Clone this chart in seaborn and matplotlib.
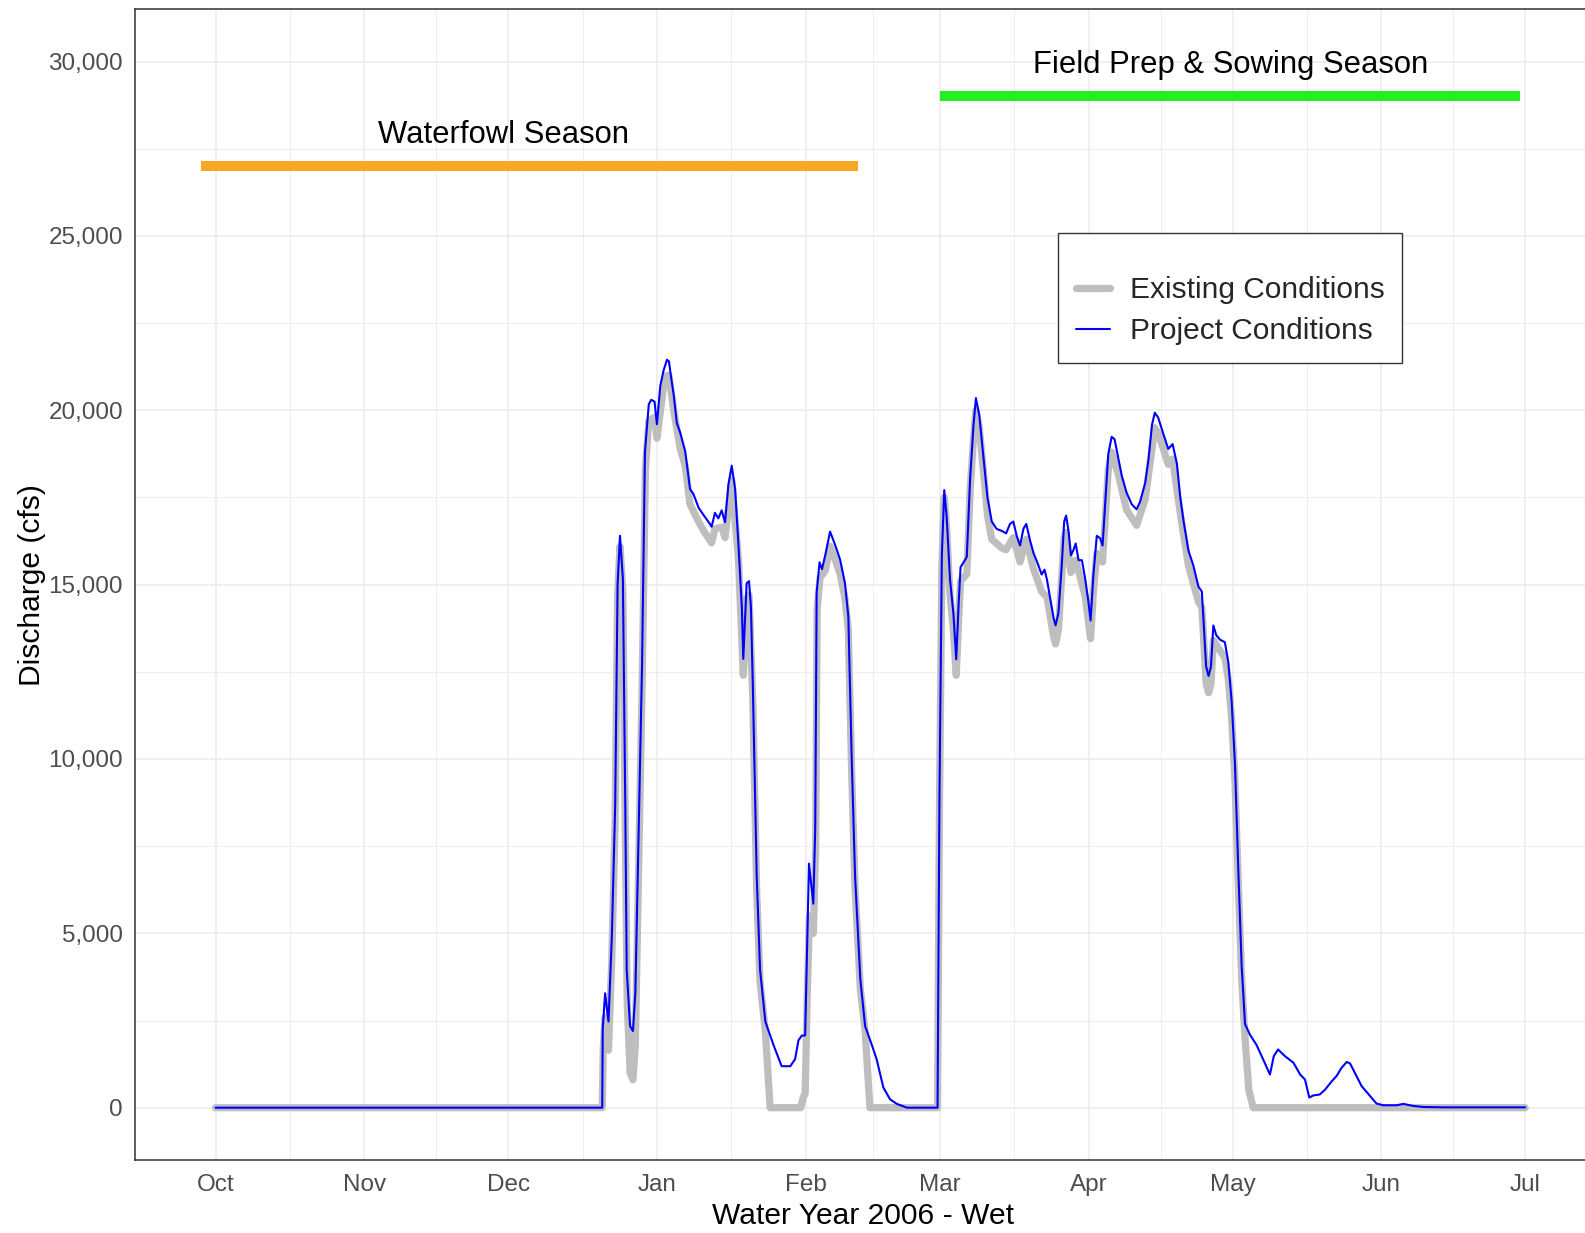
import pandas as pd
import matplotlib
matplotlib.use("Agg")
import matplotlib.pyplot as plt
import matplotlib.dates as mdates
from matplotlib.lines import Line2D
from matplotlib.ticker import FixedLocator, MultipleLocator, StrMethodFormatter
import seaborn as sns

# ---------------------------------------------------------------
# Water Year 2006 (wet) discharge, in days since 1 Oct 2005
# ---------------------------------------------------------------
WY_START = pd.Timestamp("2005-10-01")

project_days = [
    0, 80.6, 80.7, 81.2, 81.9, 82.6, 83.3, 83.8, 84.3, 84.9, 85.4, 85.7, 86.4,
    87.0, 87.5, 88.2, 88.9, 89.5, 90.3, 90.8, 91.5, 92.0, 92.7, 93.4, 94.1,
    94.5, 95.0, 95.5, 96.15, 96.85, 97.9, 98.9, 99.6, 100.7, 101.7, 102.8,
    103.4, 104.1, 104.8, 105.5, 106.2, 106.9, 107.6, 108.3, 109.0, 109.7,
    110.0, 110.4, 110.7, 111.2, 111.6, 112.0, 112.5, 112.8, 113.5, 114.6,
    116.3, 118.0, 119.8, 120.8, 121.5, 122.2, 122.9, 123.2, 123.7, 124.3,
    124.6, 125.0, 125.3, 125.9, 126.4, 127.1, 128.1, 129.2, 130.2, 131.2,
    131.9, 132.6, 133.3, 134.4, 135.4, 136.8, 137.8, 139.2, 140.6, 142.0,
    144.1, 150.5, 150.9, 151.4, 151.9, 152.4, 153.1, 153.8, 154.4, 154.9,
    155.3, 156.2, 156.6, 157.3, 158.0, 158.5, 159.2, 160.1, 160.9, 161.8,
    162.8, 163.9, 164.8, 165.6, 166.3, 167.0, 167.7, 168.4, 169.0, 169.8,
    170.5, 171.5, 172.2, 172.8, 173.3, 174.0, 174.7, 175.1, 175.7, 176.4,
    176.9, 177.3, 177.8, 178.3, 178.8, 179.3, 179.9, 180.6, 181.3, 182.0,
    182.4, 183.0, 183.7, 184.4, 184.9, 185.4, 186.1, 186.8, 187.4, 188.2,
    188.9, 189.9, 191.0, 192.0, 192.7, 193.8, 194.5, 195.2, 195.8, 196.5,
    197.6, 198.6, 199.5, 200.4, 201.1, 201.8, 202.8, 203.8, 204.9, 205.6,
    206.1, 206.5, 207.0, 207.5, 208.0, 208.6, 209.4, 210.4, 211.1, 211.8,
    212.5, 213.2, 213.9, 214.6, 215.6, 217.0, 218.4, 219.8, 220.6, 221.5,
    222.9, 224.7, 226.1, 227.1, 228.0, 228.8, 230.2, 231.3, 232.7, 233.7,
    234.7, 235.8, 236.5, 237.5, 238.9, 240.7, 242.0, 243.4, 246.2, 247.6,
    249.7, 251.8, 255.9, 273.0,
]
project_cfs = [
    0, 0, 2270, 3280, 2470, 4900, 8700, 15000, 16400, 15170, 8700, 3960, 2340,
    2200, 3300, 8000, 12700, 18800, 20170, 20300, 20250, 19600, 20700, 21150,
    21450, 21400, 20900, 20440, 19630, 19360, 18820, 17740, 17600, 17200,
    17000, 16790, 16660, 17060, 16900, 17130, 16790, 17870, 18410, 17740,
    16120, 14360, 12870, 14100, 15040, 15100, 14360, 12060, 8690, 6660, 3960,
    2470, 1800, 1190, 1190, 1390, 1930, 2070, 2070, 3960, 7000, 6250, 5850,
    8010, 14770, 15640, 15440, 15850, 16520, 16120, 15710, 15040, 14090, 10040,
    6660, 3690, 2340, 1800, 1390, 580, 240, 110, 0, 0, 8910, 15840, 17710,
    16950, 15150, 14180, 12860, 14460, 15500, 15700, 15800, 18060, 19580,
    20350, 19860, 18610, 17500, 16810, 16600, 16540, 16470, 16740, 16810,
    16400, 16120, 16600, 16740, 16260, 15910, 15560, 15290, 15430, 15150,
    14600, 14040, 13830, 14180, 15560, 16810, 16980, 16540, 15840, 15980,
    16180, 15700, 15700, 15150, 14460, 13970, 15290, 16400, 16330, 16120,
    17230, 18750, 19240, 19170, 18610, 18130, 17640, 17300, 17160, 17370,
    17920, 18610, 19580, 19930, 19790, 19310, 18890, 19030, 18470, 17500,
    16810, 15980, 15560, 14940, 14800, 13620, 12650, 12380, 12650, 13830,
    13550, 13420, 13350, 12790, 11680, 9880, 6830, 4060, 2400, 2100, 1800,
    1380, 950, 1480, 1670, 1480, 1290, 950, 810, 290, 350, 380, 520, 760, 910,
    1140, 1310, 1270, 1000, 620, 330, 120, 70, 70, 110, 50, 20, 10, 10,
]

existing_days = [
    0, 80.6, 80.8, 81.2, 81.9, 82.6, 83.3, 83.8, 84.3, 84.9, 85.4, 85.8, 86.4,
    87.0, 87.5, 88.2, 88.9, 89.6, 90.3, 91.5, 92.0, 93.4, 94.1, 94.5, 95.5,
    96.85, 97.9, 98.9, 100.7, 101.7, 103.4, 104.1, 105.5, 106.2, 107.6, 109.0,
    110.0, 110.7, 111.2, 112.0, 112.8, 113.5, 114.6, 115.6, 122.0, 122.5,
    122.9, 123.3, 123.8, 124.3, 124.6, 125.1, 125.4, 126.0, 127.1, 128.1,
    129.2, 130.2, 131.2, 131.9, 132.6, 133.3, 134.4, 135.4, 136.4, 150.5,
    150.9, 151.4, 151.9, 152.4, 153.1, 153.8, 154.4, 154.9, 155.3, 156.6,
    157.3, 158.0, 158.5, 159.2, 160.1, 160.9, 161.8, 163.9, 164.8, 166.3,
    167.7, 169.0, 170.5, 172.2, 173.3, 174.7, 175.1, 175.7, 176.9, 177.3,
    178.3, 179.3, 181.3, 182.4, 183.0, 183.7, 184.9, 186.1, 186.8, 188.2,
    189.9, 192.0, 193.8, 195.8, 196.5, 198.6, 199.5, 201.1, 202.8, 204.9,
    205.6, 206.5, 207.0, 207.5, 208.0, 210.4, 211.1, 211.8, 212.5, 213.2,
    213.9, 214.6, 215.4, 216.3, 273.0,
]
existing_cfs = [
    0, 0, 1700, 2600, 1650, 4300, 8300, 14700, 16100, 14800, 8000, 3000, 1000,
    800, 1800, 7000, 12000, 18300, 19700, 19800, 19200, 20700, 21000, 21000,
    20000, 18900, 18400, 17300, 16800, 16550, 16200, 16600, 16650, 16350,
    18000, 15700, 12400, 14600, 14700, 11600, 6200, 3600, 2200, 0, 0, 300,
    400, 3000, 5500, 5300, 5000, 7500, 14300, 15200, 15400, 16100, 15700,
    15300, 14600, 13700, 9600, 6300, 3400, 2200, 0, 0, 8600, 15500, 17500,
    16600, 14700, 13700, 12400, 14000, 15100, 15300, 17700, 19200, 20000,
    19500, 18200, 17000, 16300, 16050, 16000, 16350, 15650, 16300, 15450,
    14800, 14650, 13500, 13300, 13700, 16350, 16500, 15350, 15700, 14650,
    13450, 14800, 15900, 15650, 18300, 18800, 18150, 17150, 16700, 17450,
    19500, 19350, 18450, 18600, 17050, 15550, 14500, 14350, 12150, 11900,
    12150, 13400, 12900, 12300, 11200, 9400, 6400, 3700, 2000, 500, 0, 0,
]

# Seasonal windows shown as bars with labels above them
season_names = ["Waterfowl Season", "Field Prep & Sowing Season"]
season_start = ["2005-09-28", "2006-03-01"]
season_end = ["2006-02-12", "2006-06-30"]
season_bar_cfs = [27000, 29000]
season_label_date = ["2005-11-30", "2006-04-30 12:00"]
season_label_cfs = [28000, 30000]
season_colors = ["#F9A825", "#22EE22"]

series_names = ["Existing Conditions", "Project Conditions"]
series_colors = ["#BEBEBE", "#0000FF"]
series_widths = [5.2, 1.5]

month_breaks = pd.date_range("2005-10-01", "2006-07-01", freq="MS")

# ---------------------------------------------------------------
def to_dates(days):
    return WY_START + pd.to_timedelta(pd.Series(days, dtype=float), unit="D")

existing = pd.DataFrame({"date": to_dates(existing_days), "cfs": existing_cfs})
project = pd.DataFrame({"date": to_dates(project_days), "cfs": project_cfs})

sns.set_style("white")
plt.rcParams["font.family"] = ["Liberation Sans", "DejaVu Sans"]

fig = plt.figure(figsize=(15.85, 12.33), dpi=100)
ax = fig.add_axes([0.0852, 0.0592, 0.9188, 0.9333])

sns.lineplot(data=existing, x="date", y="cfs", ax=ax, color=series_colors[0],
             linewidth=series_widths[0], estimator=None, sort=False,
             solid_joinstyle="round", zorder=3)
sns.lineplot(data=project, x="date", y="cfs", ax=ax, color=series_colors[1],
             linewidth=series_widths[1], estimator=None, sort=False, zorder=4)

for name, s0, s1, yb, lx, ly, col in zip(season_names, season_start, season_end,
                                         season_bar_cfs, season_label_date,
                                         season_label_cfs, season_colors):
    ax.plot([pd.Timestamp(s0), pd.Timestamp(s1)], [yb, yb], color=col,
            linewidth=7.2, solid_capstyle="butt", zorder=5)
    ax.text(pd.Timestamp(lx), ly, name, ha="center", va="center_baseline",
            fontsize=22.3, color="black", zorder=6)

# x range padded by 5% of the data span
x_lo = pd.Timestamp(season_start[0])
x_hi = month_breaks[-1]
pad = (x_hi - x_lo) * 0.05
ax.set_xlim(x_lo - pad, x_hi + pad)
ax.set_ylim(-1500, 31500)

major_x = mdates.date2num(month_breaks)
minor_x = (major_x[:-1] + major_x[1:]) / 2
ax.xaxis.set_major_locator(FixedLocator(major_x))
ax.xaxis.set_minor_locator(FixedLocator(minor_x))
ax.xaxis.set_major_formatter(mdates.DateFormatter("%b"))
ax.yaxis.set_major_locator(MultipleLocator(5000))
ax.yaxis.set_minor_locator(FixedLocator([-2500 + 5000 * k for k in range(8)]))
ax.yaxis.set_major_formatter(StrMethodFormatter("{x:,.0f}"))

ax.grid(which="major", color="#EBEBEB", linewidth=1.1, zorder=0)
ax.grid(which="minor", color="#EBEBEB", linewidth=0.6, zorder=0)
ax.set_axisbelow(True)

ax.tick_params(axis="both", which="major", length=4.5, width=1.0,
               color="#333333", labelsize=17.5, labelcolor="#4D4D4D")
ax.tick_params(axis="x", which="major", pad=5.8)
ax.tick_params(axis="y", which="major", pad=4.2)
ax.tick_params(axis="both", which="minor", length=0)
for sp in ax.spines.values():
    sp.set_color("#333333")
    sp.set_linewidth(1.1)

ax.set_xlabel("Water Year 2006 - Wet", fontsize=21.6, color="black", labelpad=4)
ax.set_ylabel("Discharge (cfs)", fontsize=21.6, color="black", labelpad=2)

handles = [Line2D([0], [0], color=c, linewidth=w) for c, w in
           zip(series_colors, series_widths)]
leg = ax.legend(handles, series_names, loc="upper left",
                bbox_to_anchor=(1058 / 1585, 1 - 232.7 / 1233),
                bbox_transform=fig.transFigure, fontsize=21.5,
                title=" ", title_fontsize=8.5, frameon=True, fancybox=False,
                framealpha=1, edgecolor="#333333", borderpad=0.6,
                handlelength=1.15, handletextpad=0.65, labelspacing=0.45,
                borderaxespad=0)
leg.get_frame().set_linewidth(1.0)

fig.savefig("out.png", dpi=100)
